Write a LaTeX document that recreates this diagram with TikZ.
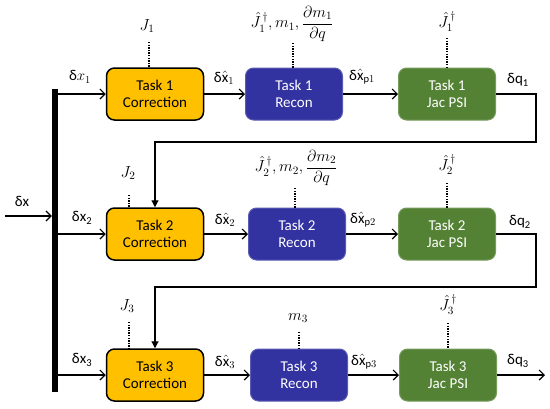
\RequirePackage{fix-cm}
\documentclass[tikz,border=0pt]{standalone}
\usepackage{amsmath}
\usepackage{fontspec}
\setmainfont{Carlito}
\usetikzlibrary{arrows.meta}
\definecolor{corr}{RGB}{255,192,0}
\definecolor{recon}{RGB}{50,50,160}
\definecolor{jac}{RGB}{84,130,53}
\begin{document}
\begin{tikzpicture}[x=1pt,y=-1pt,
  font=\fontsize{15}{17}\selectfont,
  box/.style={rounded corners=8pt, minimum width=97pt, minimum height=52pt, align=center, inner sep=0pt},
  corrbox/.style={box, fill=corr, draw=black, line width=1.5pt},
  reconbox/.style={box, fill=recon, draw=recon!80!white, line width=1pt, text=white},
  jacbox/.style={box, fill=jac, draw=jac!80!white, line width=1pt, text=white},
  sig/.style={line width=1.2pt, -{Straight Barb[length=5pt,width=10pt]}},
  fb/.style={line width=1.2pt, -{Triangle[length=7pt,width=7pt]}},
  dotl/.style={line width=2pt, dash pattern=on 1.3pt off 1.3pt},
  lab/.style={inner sep=0pt},
  mlab/.style={inner sep=0pt, font=\fontsize{16}{19}\selectfont}
]
\useasboundingbox (0,0) rectangle (550,408);

% bar
\node[fill=black, minimum width=6pt, minimum height=303pt, inner sep=0pt] (bar) at (55,240.5) {};

% boxes
\node[corrbox]  (c1) at (155,94)  {Task 1\\Correction};
\node[reconbox] (r1) at (294,94)  {Task 1\\Recon};
\node[jacbox]   (j1) at (447,94)  {Task 1\\Jac PSI};
\node[corrbox]  (c2) at (155,234) {Task 2\\Correction};
\node[reconbox] (r2) at (297,234) {Task 2\\Recon};
\node[jacbox]   (j2) at (447,234) {Task 2\\Jac PSI};
\node[corrbox]  (c3) at (155,375) {Task 3\\Correction};
\node[reconbox] (r3) at (299,375) {Task 3\\Recon};
\node[jacbox]   (j3) at (448,375) {Task 3\\Jac PSI};

% input
\coordinate (in) at (5,216);
\draw[sig] (in) -- (in -| bar.west);
\node[lab] (ldx) at (22,201) {δx};

% bar to boxes
\draw[sig] (bar.east |- c1.west) -- (c1.west);
\draw[sig] (bar.east |- c2.west) -- (c2.west);
\draw[sig] (bar.east |- c3.west) -- (c3.west);
\node[lab] (lx1) at (80,77) {δ$x_1$};
\node[lab] (lx2) at (82,218) {δx\textsubscript{2}};
\node[lab] (lx3) at (82,360) {δx\textsubscript{3}};

% chain arrows
\draw[sig] (c1.east) -- (r1.west);
\draw[sig] (r1.east) -- (j1.west);
\draw[sig] (c2.east) -- (r2.west);
\draw[sig] (r2.east) -- (j2.west);
\draw[sig] (c3.east) -- (r3.west);
\draw[sig] (r3.east) -- (j3.west);
\node[lab] (lh1) at (224,78) {δ$\hat{\mathrm{x}}_1$};
\node[lab] (lh2) at (225,220) {δ$\hat{\mathrm{x}}_2$};
\node[lab] (lh3) at (225,362) {δ$\hat{\mathrm{x}}_3$};
\node[lab] (lp1) at (362,77) {δ$\hat{\mathrm{x}}_{\mathrm{p}1}$};
\node[lab] (lp2) at (363,220) {δ$\hat{\mathrm{x}}_{\mathrm{p}2}$};
\node[lab] (lp3) at (364,362) {δ$\hat{\mathrm{x}}_{\mathrm{p}3}$};
\node[lab] (lq1) at (518,80) {δq\textsubscript{1}};
\node[lab] (lq2) at (520,222) {δq\textsubscript{2}};
\node[lab] (lq3) at (518,361) {δq\textsubscript{3}};

% feedback
\coordinate (f1) at (536,142);
\coordinate (f2) at (536,287);
\draw[fb] (j1.east) -| (f1) -| (c2.north);
\draw[fb] (j2.east) -| (f2) -| (c3.north);
\coordinate (out) at (545,375);
\draw[sig] (j3.east) -- (out);

% top labels
\node[mlab] (tJ1) at (147,26) {$J_1$};
\node[mlab] (tR1) at (292,24) {$\hat{J}_1^{\,\dagger}, m_1, \dfrac{\partial m_1}{\partial q}$};
\node[mlab] (tP1) at (447,22) {$\hat{J}_1^{\,\dagger}$};
\node[mlab] (tJ2) at (128,173) {$J_2$};
\node[mlab] (tR2) at (296,168) {$\hat{J}_2^{\,\dagger}, m_2, \dfrac{\partial m_2}{\partial q}$};
\node[mlab] (tP2) at (447,165) {$\hat{J}_2^{\,\dagger}$};
\node[mlab] (tJ3) at (127,306) {$J_3$};
\node[mlab] (tR3) at (298,318) {$m_3$};
\node[mlab] (tP3) at (448,305) {$\hat{J}_3^{\,\dagger}$};

% dotted lines
\coordinate (d11) at (149,42);
\coordinate (d12) at (293,43);
\coordinate (d13) at (447,38);
\coordinate (d21) at (129,195);
\coordinate (d22) at (295,188);
\coordinate (d23) at (447,183);
\coordinate (d31) at (129,322);
\coordinate (d32) at (299,332);
\coordinate (d33) at (448,323);
\draw[dotl] (d11) -- (d11 |- c1.north);
\draw[dotl] (d12) -- (d12 |- r1.north);
\draw[dotl] (d13) -- (d13 |- j1.north);
\draw[dotl] (d21) -- (d21 |- c2.north);
\draw[dotl] (d22) -- (d22 |- r2.north);
\draw[dotl] (d23) -- (d23 |- j2.north);
\draw[dotl] (d31) -- (d31 |- c3.north);
\draw[dotl] (d32) -- (d32 |- r3.north);
\draw[dotl] (d33) -- (d33 |- j3.north);
\end{tikzpicture}
\end{document}
